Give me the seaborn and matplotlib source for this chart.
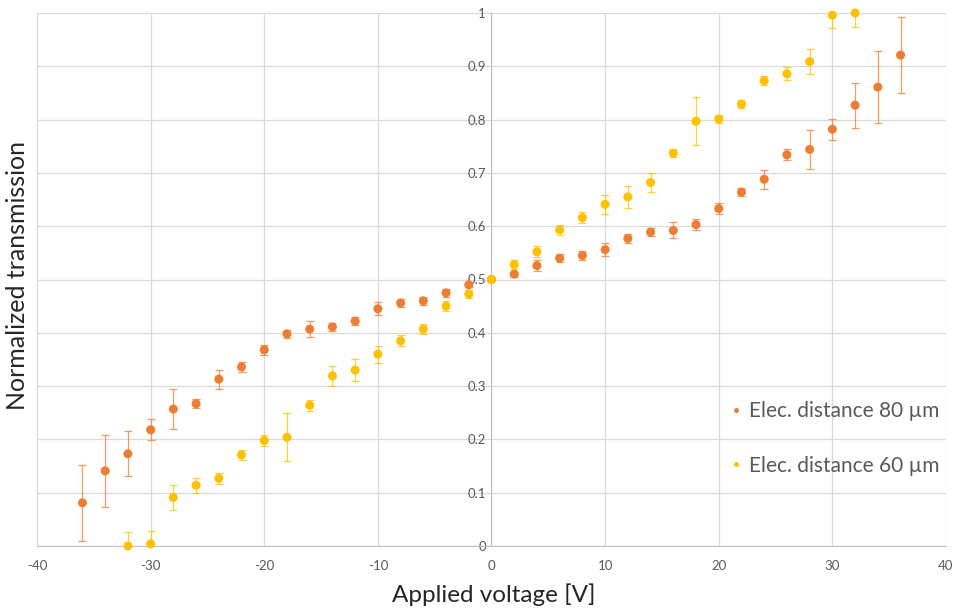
import matplotlib
matplotlib.use("Agg")
import matplotlib.pyplot as plt
import seaborn as sns
import pandas as pd

# Tensão aplicada (V) e transmissão normalizada
volt_80 = [-36, -34, -32, -30, -28, -26, -24, -22, -20, -18, -16, -14, -12, -10, -8, -6, -4, -2,
           0, 2, 4, 6, 8, 10, 12, 14, 16, 18, 20, 22, 24, 26, 28, 30, 32, 34, 36]
trans_80 = [0.081, 0.141, 0.173, 0.218, 0.257, 0.267, 0.313, 0.336, 0.368, 0.398, 0.407, 0.411,
            0.422, 0.445, 0.456, 0.460, 0.475, 0.490, 0.500, 0.510, 0.526, 0.540, 0.545, 0.556,
            0.577, 0.589, 0.592, 0.603, 0.633, 0.664, 0.688, 0.734, 0.744, 0.782, 0.827, 0.861, 0.921]
err_80 = [0.071, 0.067, 0.042, 0.020, 0.037, 0.008, 0.018, 0.010, 0.010, 0.008, 0.015, 0.008,
          0.008, 0.012, 0.008, 0.008, 0.008, 0.005, 0.0, 0.005, 0.010, 0.008, 0.008, 0.012,
          0.008, 0.007, 0.015, 0.010, 0.010, 0.008, 0.018, 0.010, 0.037, 0.020, 0.042, 0.067, 0.071]

volt_60 = [-32, -30, -28, -26, -24, -22, -20, -18, -16, -14, -12, -10, -8, -6, -4, -2,
           0, 2, 4, 6, 8, 10, 12, 14, 16, 18, 20, 22, 24, 26, 28, 30, 32]
trans_60 = [0.000, 0.004, 0.091, 0.114, 0.127, 0.171, 0.198, 0.204, 0.264, 0.319, 0.330, 0.360,
            0.385, 0.407, 0.450, 0.473, 0.500, 0.528, 0.552, 0.593, 0.616, 0.641, 0.655, 0.682,
            0.737, 0.797, 0.801, 0.829, 0.873, 0.886, 0.909, 0.996, 1.000]
err_60 = [0.026, 0.025, 0.023, 0.014, 0.010, 0.010, 0.010, 0.045, 0.010, 0.018, 0.020, 0.016,
          0.010, 0.010, 0.010, 0.008, 0.0, 0.008, 0.010, 0.010, 0.010, 0.018, 0.020, 0.018,
          0.008, 0.045, 0.008, 0.008, 0.008, 0.012, 0.023, 0.025, 0.026]

rotulo_80 = "Elec. distance 80 µm"
rotulo_60 = "Elec. distance 60 µm"
cores = {rotulo_80: "#ED7D31", rotulo_60: "#FFC000"}

df = pd.concat([
    pd.DataFrame({"V": volt_80, "T": trans_80, "err": err_80, "serie": rotulo_80}),
    pd.DataFrame({"V": volt_60, "T": trans_60, "err": err_60, "serie": rotulo_60}),
], ignore_index=True)

sns.set_style("white")
plt.rcParams["font.family"] = ["Lato", "DejaVu Sans"]
plt.rcParams["axes.unicode_minus"] = False

fig = plt.figure(figsize=(9.57, 6.09), dpi=100)
ax = fig.add_axes([37 / 957, 1 - 546 / 609, 909 / 957, 533 / 609])

# Barras de erro primeiro, depois os pontos por cima
for serie, grupo in df.groupby("serie", sort=False):
    ax.errorbar(grupo["V"], grupo["T"], yerr=grupo["err"], fmt="none",
                ecolor=cores[serie], elinewidth=0.9, capsize=3, capthick=0.9,
                alpha=0.75, zorder=2)

sns.scatterplot(data=df, x="V", y="T", hue="serie", palette=cores, s=42,
                edgecolor="none", legend=True, ax=ax, zorder=3, clip_on=False)

ax.set_xlim(-40, 40)
ax.set_ylim(0, 1)
ax.set_xticks(range(-40, 41, 10))
ax.set_yticks([i / 10 for i in range(11)])
ax.set_yticklabels(["0", "0.1", "0.2", "0.3", "0.4", "0.5", "0.6", "0.7", "0.8", "0.9", "1"])

ax.grid(True, color="#D9D9D9", linewidth=0.9)
ax.set_axisbelow(True)
for lado in ["top", "right"]:
    ax.spines[lado].set_visible(False)
ax.spines["left"].set_position(("data", 0))
ax.spines["left"].set_color("#BFBFBF")
ax.spines["bottom"].set_color("#BFBFBF")
ax.tick_params(axis="both", length=0, labelsize=9.5, colors="#595959")
ax.tick_params(axis="x", pad=10)
ax.tick_params(axis="y", pad=4)

ax.set_xlabel("Applied voltage [V]", fontsize=17.5, color="#262626")
ax.set_ylabel("Normalized transmission", fontsize=18, color="#262626")
ax.xaxis.set_label_coords(0.502, -0.07)
ax.yaxis.set_label_coords(-0.009, 0.508)

handles, labels = ax.get_legend_handles_labels()
leg = ax.legend(handles, labels, loc="center left", bbox_to_anchor=(0.728, 0.28),
                bbox_transform=fig.transFigure, frameon=False, fontsize=15,
                labelspacing=1.65, handletextpad=-0.4, markerscale=0.55)
for texto in leg.get_texts():
    texto.set_color("#595959")

fig.savefig("out.png", dpi=100)
plt.close(fig)
